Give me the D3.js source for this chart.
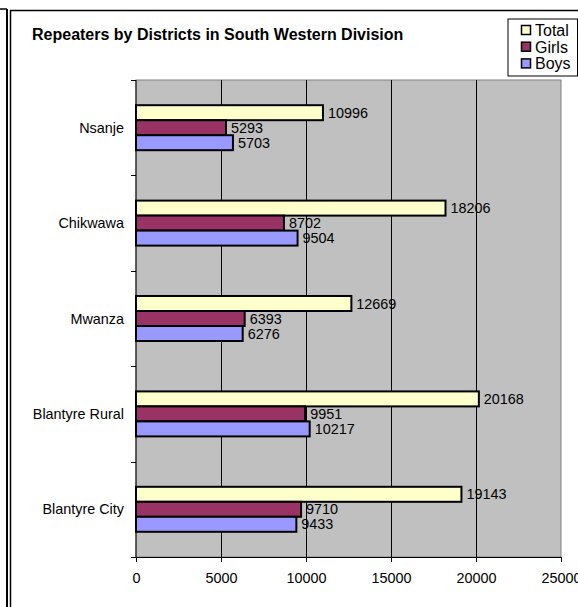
<!DOCTYPE html>
<html>
<head>
<meta charset="utf-8">
<script src="https://d3js.org/d3.v7.min.js"></script>
<style>
  html, body { margin: 0; padding: 0; background: #fff; }
  svg { display: block; font-family: "Liberation Sans", Arial, sans-serif; }
</style>
</head>
<body>
<svg id="chart" width="578" height="607"></svg>
<script>
const title = "Repeaters by Districts in South Western Division";
const districts = ["Nsanje", "Chikwawa", "Mwanza", "Blantyre Rural", "Blantyre City"];
const seriesNames = ["Total", "Girls", "Boys"];
const totalValues = [10996, 18206, 12669, 20168, 19143];
const girlsValues = [5293, 8702, 6393, 9951, 9710];
const boysValues = [5703, 9504, 6276, 10217, 9433];
const xTicks = [0, 5000, 10000, 15000, 20000, 25000];
const seriesColors = ["#FFFFCC", "#993366", "#9999FF"];

const seriesValues = [totalValues, girlsValues, boysValues];

const svg = d3.select("#chart");

// outer frame lines
svg.append("line").attr("x1", 0).attr("y1", 9).attr("x2", 7).attr("y2", 9)
  .attr("stroke", "#000").attr("stroke-width", 1.5);
svg.append("line").attr("x1", 7).attr("y1", 9).attr("x2", 7).attr("y2", 607)
  .attr("stroke", "#000").attr("stroke-width", 2);
svg.append("rect").attr("x", 10.5).attr("y", 10.5).attr("width", 600).attr("height", 620)
  .attr("fill", "#fff").attr("stroke", "#000").attr("stroke-width", 1.5);

// title
svg.append("text").attr("x", 32).attr("y", 40)
  .attr("font-size", 16).attr("font-weight", "bold").attr("fill", "#000")
  .text(title);

const pLeft = 136, pRight = 561, pTop = 80, pBottom = 557;

const x = d3.scaleLinear().domain([0, 25000]).range([pLeft, pRight]);
const y0 = d3.scaleBand().domain(districts).range([pTop, pBottom]).padding(0);
const y1 = d3.scaleBand().domain(seriesNames).range([0, y0.bandwidth()])
  .paddingInner(0).paddingOuter(1.68);

// plot area
svg.append("rect").attr("x", pLeft).attr("y", pTop)
  .attr("width", pRight - pLeft).attr("height", pBottom - pTop)
  .attr("fill", "#C0C0C0").attr("stroke", "#808080").attr("stroke-width", 1);

// gridlines
svg.append("g").selectAll("line").data(xTicks.slice(1, -1)).join("line")
  .attr("x1", d => Math.round(x(d)) + 0.5).attr("x2", d => Math.round(x(d)) + 0.5)
  .attr("y1", pTop).attr("y2", pBottom)
  .attr("stroke", "#000").attr("stroke-width", 1);

// bars
const groups = svg.append("g").selectAll("g").data(districts).join("g")
  .attr("transform", d => `translate(0,${y0(d)})`);

groups.each(function(dist, i) {
  const g = d3.select(this);
  seriesNames.forEach((s, k) => {
    const v = seriesValues[k][i];
    g.append("rect")
      .attr("x", x(0)).attr("y", y1(s))
      .attr("width", x(v) - x(0)).attr("height", y1.bandwidth())
      .attr("fill", seriesColors[k]).attr("stroke", "#000").attr("stroke-width", 2);
    g.append("text")
      .attr("x", x(v) + 5).attr("y", y1(s) + y1.bandwidth() / 2)
      .attr("dy", "0.35em").attr("font-size", 14.4).attr("fill", "#000")
      .text(v);
  });
});

// x axis
const xAxis = d3.axisBottom(x).tickValues(xTicks).tickSize(5).tickPadding(11)
  .tickFormat(d3.format("d"));
const gx = svg.append("g").attr("transform", `translate(0,${pBottom})`).call(xAxis);
gx.select(".domain").attr("stroke", "#000");
gx.selectAll("text").attr("font-size", 14.4).attr("fill", "#000")
  .attr("font-family", "Liberation Sans, Arial, sans-serif");

// y axis
const gyLine = svg.append("g");
gyLine.append("line").attr("x1", pLeft).attr("x2", pLeft).attr("y1", pTop).attr("y2", pBottom)
  .attr("stroke", "#000");
const bounds = districts.map(d => y0(d)).concat([pBottom]);
gyLine.selectAll("line.tk").data(bounds).join("line").attr("class", "tk")
  .attr("x1", pLeft - 5).attr("x2", pLeft).attr("y1", d => Math.round(d) + 0.5).attr("y2", d => Math.round(d) + 0.5)
  .attr("stroke", "#000");
svg.append("g").selectAll("text").data(districts).join("text")
  .attr("x", pLeft - 12).attr("y", d => y0(d) + y0.bandwidth() / 2)
  .attr("dy", "0.35em").attr("text-anchor", "end").attr("font-size", 14.4).attr("fill", "#000")
  .text(d => d);

// legend
const lg = svg.append("g");
lg.append("rect").attr("x", 508).attr("y", 19).attr("width", 69.5).attr("height", 57)
  .attr("fill", "#fff").attr("stroke", "#000").attr("stroke-width", 1);
seriesNames.forEach((s, k) => {
  const yy = 25.5 + k * 16.7;
  lg.append("rect").attr("x", 521.5).attr("y", yy).attr("width", 9).attr("height", 9)
    .attr("fill", seriesColors[k]).attr("stroke", "#000").attr("stroke-width", 1.5);
  lg.append("text").attr("x", 535).attr("y", yy + 10.3).attr("font-size", 16).attr("fill", "#000").text(s);
});
</script>
</body>
</html>
